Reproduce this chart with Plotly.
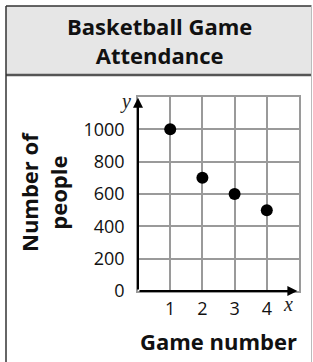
import plotly.graph_objects as go

games = [1, 2, 3, 4]
attendance = [1000, 700, 600, 500]
x_tickvals = [0, 1, 2, 3, 4, 5]
x_ticktext = ["", "1", "2", "3", "4", ""]
y_tickvals = [0, 200, 400, 600, 800, 1000, 1200]
y_ticktext = ["0", "200", "400", "600", "800", "1000", ""]

W, H = 313, 362
L, R, T, B = 138, 14, 97, 71
PW, PH = W - L - R, H - T - B

def px(xp):
    return (xp - L) / PW

def py(yp):
    return (H - B - yp) / PH

fig = go.Figure()
fig.add_trace(go.Scatter(
    x=games, y=attendance, mode="markers",
    marker=dict(color="black", size=12),
    cliponaxis=False, hoverinfo="skip"))

grid = "#9a9a9a"
font = "Open Sans"
fig.update_layout(
    width=W, height=H,
    margin=dict(l=L, r=R, t=T, b=B, autoexpand=False),
    paper_bgcolor="white", plot_bgcolor="white",
    showlegend=False,
    xaxis=dict(range=[0, 5], tickvals=x_tickvals, ticktext=x_ticktext,
               showgrid=True, gridcolor=grid, gridwidth=1.5, zeroline=False,
               showline=True, mirror=True, linecolor=grid, linewidth=1.5,
               ticks="", ticklabelstandoff=1,
               tickfont=dict(family=font, size=18, color="#111111"),
               fixedrange=True),
    yaxis=dict(range=[0, 1200], tickvals=y_tickvals, ticktext=y_ticktext,
               showgrid=True, gridcolor=grid, gridwidth=1.5, zeroline=False,
               showline=True, mirror=True, linecolor=grid, linewidth=1.5,
               ticks="", ticklabelstandoff=8,
               tickfont=dict(family=font, size=18, color="#111111"),
               fixedrange=True),
)

# Outer box and header
fig.add_shape(type="rect", xref="paper", yref="paper",
              x0=px(6), x1=px(311.5), y0=py(6), y1=py(75),
              fillcolor="#e6e6e6", line=dict(width=0), layer="below")
fig.add_shape(type="line", xref="paper", yref="paper",
              x0=px(6), x1=px(311.5), y0=py(6), y1=py(6),
              line=dict(color="#333333", width=1.5))
fig.add_shape(type="line", xref="paper", yref="paper",
              x0=px(6), x1=px(311.5), y0=py(75), y1=py(75),
              line=dict(color="#555555", width=2.5))
fig.add_shape(type="line", xref="paper", yref="paper",
              x0=px(6), x1=px(6), y0=py(6), y1=py(370),
              line=dict(color="#333333", width=1.5))
fig.add_shape(type="line", xref="paper", yref="paper",
              x0=px(311.5), x1=px(311.5), y0=py(6), y1=py(370),
              line=dict(color="#bbbbbb", width=1))

# Axis arrows
fig.add_annotation(x=4.95, y=0, ax=0, ay=0, xref="x", yref="y", axref="x", ayref="y",
                   text="", showarrow=True, arrowhead=2, arrowsize=1, arrowwidth=2,
                   arrowcolor="black")
fig.add_annotation(x=0, y=1195, ax=0, ay=0, xref="x", yref="y", axref="x", ayref="y",
                   text="", showarrow=True, arrowhead=2, arrowsize=1, arrowwidth=2,
                   arrowcolor="black")

def label(xp, yp, text, size, family=font, angle=0, color="#111111"):
    fig.add_annotation(x=px(xp), y=py(yp), xref="paper", yref="paper", showarrow=False,
                       xanchor="center", yanchor="middle", textangle=angle,
                       text=text, font=dict(family=family, size=size, color=color))

# Axis letters
label(125, 101, "<i>y</i>", 20, family="Liberation Serif", color="#222222")
label(288, 304, "<i>x</i>", 20, family="Liberation Serif", color="#222222")

# Title
label(159, 41, "<b>Basketball Game<br>Attendance</b>", 22)

# Axis titles
label(218, 341, "<b>Game number</b>", 22)
label(43, 192, "<b>Number of<br>people</b>", 22, angle=-90)

fig.write_html("out.html", config={"displayModeBar": False},
               post_script="document.body.style.margin='0';")
